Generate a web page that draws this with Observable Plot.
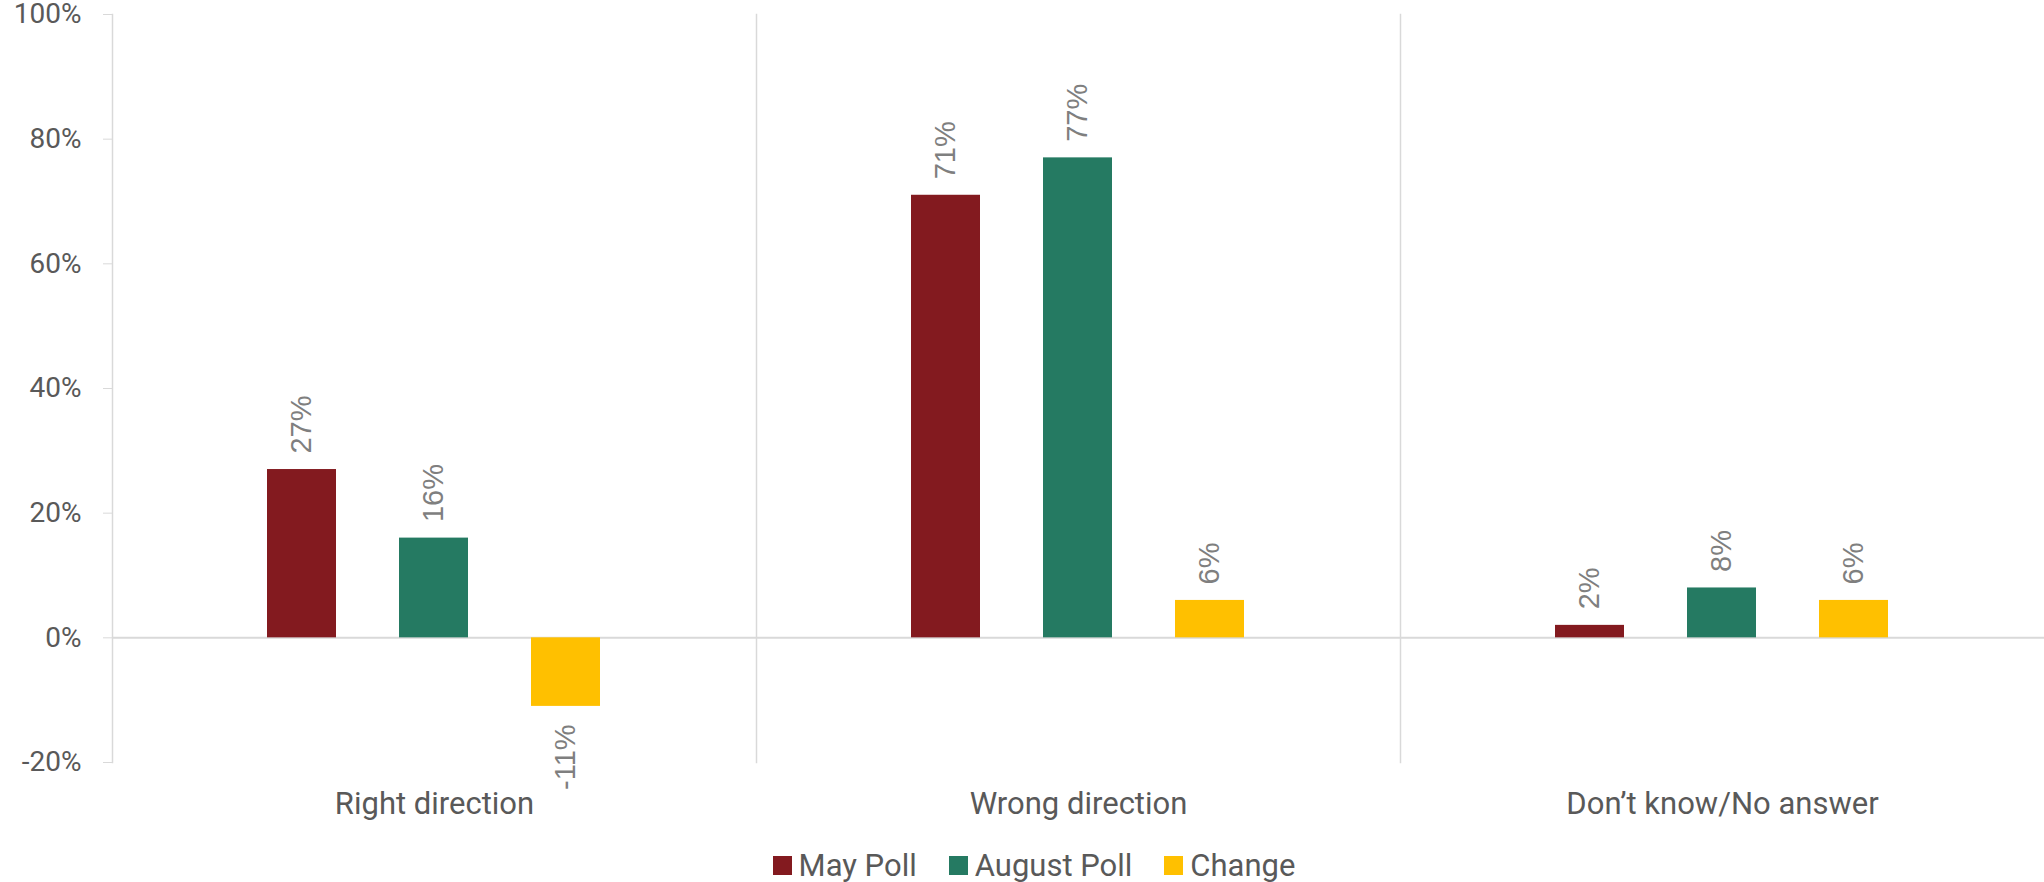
<!DOCTYPE html>
<html>
<head>
<meta charset="utf-8">
<script src="https://cdn.jsdelivr.net/npm/d3@7"></script>
<script src="https://cdn.jsdelivr.net/npm/@observablehq/plot@0.6"></script>
<style>
  html, body { margin: 0; padding: 0; background: #fff; }
  #chart svg { display: block; }
  .legend { display: flex; justify-content: center; align-items: center; height: 42px; padding-top: 4px; padding-left: 24px;
            font-family: Roboto, "Liberation Sans", sans-serif; font-size: 31px; color: #595959; }
  .legend .item { display: flex; align-items: center; margin: 0 16px; }
  .legend .sw { width: 19px; height: 19px; margin-right: 7px; }
</style>
</head>
<body>
<div id="chart"></div>
<script>
const categories = ["Right direction", "Wrong direction", "Don’t know/No answer"];
const series = ["May Poll", "August Poll", "Change"];
const mayPoll = [27, 71, 2];
const augustPoll = [16, 77, 8];
const change = [-11, 6, 6];
const colors = ["#831A1F", "#257A62", "#FFC000"];
const yTicks = [-20, 0, 20, 40, 60, 80, 100];

const seriesValues = [mayPoll, augustPoll, change];
const rows = [];
categories.forEach((c, i) => {
  series.forEach((s, j) => rows.push({category: c, series: s, value: seriesValues[j][i]}));
});
const fmt = d => `${d}%`;

const plot = Plot.plot({
  width: 2044,
  height: 840,
  marginLeft: 111,
  marginRight: 0,
  marginTop: 14,
  marginBottom: 78,
  style: {fontFamily: "Roboto, 'Liberation Sans', sans-serif", fontSize: "28px", color: "#595959", background: "#fff", overflow: "visible"},
  fx: {domain: categories, padding: 0, label: null},
  x: {domain: series, paddingInner: 0.48, paddingOuter: 1.165, axis: null},
  y: {domain: [-20, 100], label: null},
  color: {domain: series, range: colors},
  marks: [
    Plot.frame({anchor: "left", stroke: "#d9d9d9", strokeWidth: 1.5}),
    Plot.ruleY([0], {stroke: "#d9d9d9", strokeWidth: 2}),
    Plot.axisY({ticks: yTicks, tickFormat: fmt, tickSize: 9, tickPadding: 22, stroke: "#d9d9d9", fill: "#595959", fontSize: 28, label: null}),
    Plot.axisFx({anchor: "bottom", tickSize: 0, tickPadding: 29, fill: "#595959", fontSize: 31, label: null}),
    Plot.barY(rows, {fx: "category", x: "series", y: "value", fill: "series", dx: -1}),
    Plot.text(rows.filter(d => d.value >= 0), {fx: "category", x: "series", y: "value", text: d => fmt(d.value),
      rotate: -90, textAnchor: "start", lineAnchor: "middle", dy: -16, dx: -1, fill: "#7f7f7f", fontSize: 29, fontFamily: "'Liberation Sans', Arial, sans-serif"}),
    Plot.text(rows.filter(d => d.value < 0), {fx: "category", x: "series", y: "value", text: d => fmt(d.value),
      rotate: -90, textAnchor: "end", lineAnchor: "middle", dy: 18, dx: -1, fill: "#7f7f7f", fontSize: 29, fontFamily: "'Liberation Sans', Arial, sans-serif"})
  ]
});
document.getElementById("chart").appendChild(plot);

const legend = d3.select("body").append("div").attr("class", "legend");
series.forEach((s, i) => {
  const it = legend.append("div").attr("class", "item");
  it.append("div").attr("class", "sw").style("background", colors[i]);
  it.append("span").text(s);
});
</script>
</body>
</html>
